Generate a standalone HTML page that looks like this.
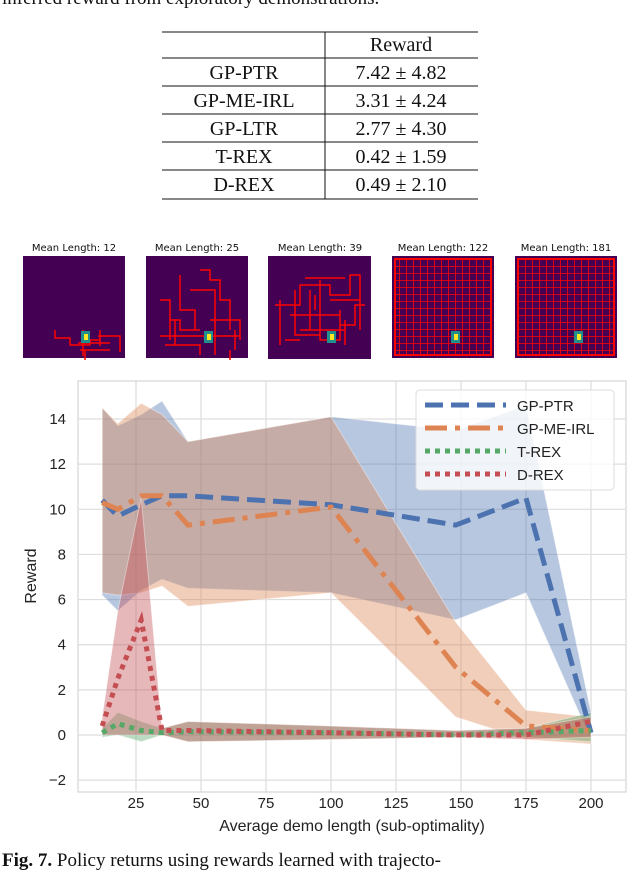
<!DOCTYPE html>
<html><head><meta charset="utf-8"><style>
body{margin:0;background:#fff;width:640px;height:867px;overflow:hidden;position:relative;font-family:"Liberation Serif",serif}
.abs{position:absolute}
</style></head><body>
<div class="abs" style="left:2px;top:-12px;font-size:19px;color:#111;white-space:nowrap">inferred reward from exploratory demonstrations.</div>
<svg class="abs" style="left:0;top:0" width="640" height="867">
<g font-family="Liberation Serif, serif" font-size="20" fill="#111" text-anchor="middle">
<line x1="162" x2="478" y1="32" y2="32" stroke="#111" stroke-width="1"/>
<line x1="162" x2="478" y1="58" y2="58" stroke="#111" stroke-width="1"/>
<line x1="162" x2="478" y1="86" y2="86" stroke="#111" stroke-width="1"/>
<line x1="162" x2="478" y1="114" y2="114" stroke="#111" stroke-width="1"/>
<line x1="162" x2="478" y1="142" y2="142" stroke="#111" stroke-width="1"/>
<line x1="162" x2="478" y1="170" y2="170" stroke="#111" stroke-width="1"/>
<line x1="162" x2="478" y1="199" y2="199" stroke="#111" stroke-width="1"/>
<line x1="325" x2="325" y1="32" y2="199" stroke="#111" stroke-width="1"/>
<text x="401" y="51">Reward</text>
<text x="244" y="79">GP-PTR</text><text x="401" y="79">7.42 ± 4.82</text>
<text x="244" y="107">GP-ME-IRL</text><text x="401" y="107">3.31 ± 4.24</text>
<text x="244" y="135">GP-LTR</text><text x="401" y="135">2.77 ± 4.30</text>
<text x="244" y="163">T-REX</text><text x="401" y="163">0.42 ± 1.59</text>
<text x="244" y="191">D-REX</text><text x="401" y="191">0.49 ± 2.10</text>
</g>
<defs>
<pattern id="dense" width="7" height="7" patternUnits="userSpaceOnUse"><rect width="7" height="7" fill="#440154"/><path d="M0 0H7M0 0V7" stroke="#f00" stroke-width="1.6"/></pattern>
</defs>
<g font-family="DejaVu Sans, sans-serif" font-size="10" fill="#111" text-anchor="middle">
<text x="74" y="251">Mean Length: 12</text>
<text x="197" y="251">Mean Length: 25</text>
<text x="320" y="251">Mean Length: 39</text>
<text x="443" y="251">Mean Length: 122</text>
<text x="566" y="251">Mean Length: 181</text>
<rect x="23" y="256" width="102" height="102" fill="#440154"/>
<path d="M55 330V338H70V345H90V340H100V346M100 330V340M80 350H110M83 330V356M98 336H120V352M78 343H110M85 360V350" stroke="#f00" stroke-width="1.5" fill="none"/>
<rect x="146" y="256" width="102" height="102" fill="#440154"/>
<path d="M160 300H170V320H180V330H200M170 315V340M165 345H200V355M180 275V310H195V330M200 270H210V280H220V300H230V330M190 290H215V340M210 320H240V340M215 300V355M230 300V330M160 336H240M175 320V345M235 330V350M230 350V360" stroke="#f00" stroke-width="1.5" fill="none"/>
<rect x="268" y="256" width="103" height="103" fill="#440154"/>
<path d="M275 305H300V285H330V295H350V275H360V330M280 300V345M290 315H340V325H355V305H365M295 290V335H320M310 290V330M320 280V340H340V310M330 300H360M300 330H345V345M345 320V345M285 340H300M305 278H345M315 295V310" stroke="#f00" stroke-width="1.5" fill="none"/>
<rect x="392" y="256" width="102" height="102" fill="#440154"/>
<rect x="395" y="259" width="96" height="96" fill="url(#dense)" stroke="#f00" stroke-width="2"/>
<rect x="515" y="256" width="102" height="102" fill="#440154"/>
<rect x="518" y="259" width="96" height="96" fill="url(#dense)" stroke="#f00" stroke-width="2"/>
<g>
<rect x="81" y="331" width="9" height="12" fill="#21908d"/><rect x="84" y="334" width="4" height="6" fill="#fde725"/>
<rect x="204" y="331" width="9" height="12" fill="#21908d"/><rect x="207" y="334" width="4" height="6" fill="#fde725"/>
<rect x="327" y="331" width="9" height="12" fill="#21908d"/><rect x="330" y="334" width="4" height="6" fill="#fde725"/>
<rect x="451" y="331" width="9" height="12" fill="#21908d"/><rect x="454" y="334" width="4" height="6" fill="#fde725"/>
<rect x="574" y="331" width="9" height="12" fill="#21908d"/><rect x="577" y="334" width="4" height="6" fill="#fde725"/>
</g>
</g>
<g id="chart"></g>
</svg>
<div class="abs" style="left:2px;top:850px;font-size:19px;color:#111;white-space:nowrap"><b>Fig. 7.</b> Policy returns using rewards learned with trajecto-</div>
<script>
const xs=[12,18,27,35,45,100,148,175,200];
const ptr=[10.4,9.7,10.2,10.6,10.6,10.2,9.3,10.5,0.1];
const ptrHi=[14.5,13.7,14.2,14.8,13.0,14.1,13.5,14.6,1.0];
const ptrLo=[6.2,5.5,6.4,6.9,6.5,6.3,5.1,6.3,-0.2];
const me=[10.3,10.0,10.6,10.6,9.3,10.1,3.0,0.4,0.2];
const meHi=[14.5,13.8,14.7,14.2,13.0,14.1,5.0,1.1,0.8];
const meLo=[6.3,6.2,6.3,6.6,5.7,6.3,0.8,-0.2,-0.4];
const trex=[0.1,0.5,0.2,0.1,0.15,0.1,0.0,0.1,0.2];
const trexHi=[0.3,1.0,0.6,0.3,0.6,0.4,0.2,0.3,1.0];
const trexLo=[-0.1,0.0,-0.3,0.0,-0.3,-0.2,-0.1,-0.1,-0.3];
const drex=[0.4,2.5,5.1,0.2,0.2,0.1,0.0,0.0,0.6];
const drexHi=[0.8,5.5,10.5,0.3,0.6,0.4,0.2,0.3,0.8];
const drexLo=[0.0,0.0,0.0,0.0,-0.3,-0.2,-0.1,-0.2,-0.1];
const xTicks=[25,50,75,100,125,150,175,200];
const yTicks=[-2,0,2,4,6,8,10,12,14];
const L=78,R=626,T=381,B=792;
const X=v=>136+(v-25)*2.6;
const Y=v=>735-v*22.57;
const g=document.getElementById('chart');
const NS='http://www.w3.org/2000/svg';
function mk(t,a){const e=document.createElementNS(NS,t);for(const k in a)e.setAttribute(k,a[k]);g.appendChild(e);return e;}
let e=mk('rect',{x:L,y:T,width:R-L,height:B-T,fill:'#fff',stroke:'#ddd','stroke-width':1.5});


xTicks.forEach(t=>{let l=mk('line',{x1:X(t),x2:X(t),y1:T,y2:B,stroke:'#ddd','stroke-width':1.2});


let tx=mk('text',{x:X(t),y:B+16,'font-size':15,'font-family':'Liberation Sans, sans-serif','text-anchor':'middle',fill:'#222'});tx.textContent=t;

});
yTicks.forEach(t=>{let l=mk('line',{x1:L,x2:R,y1:Y(t),y2:Y(t),stroke:'#ddd','stroke-width':1.2});


let tx=mk('text',{x:L-12,y:Y(t)+5,'font-size':15,'font-family':'Liberation Sans, sans-serif','text-anchor':'end',fill:'#222'});tx.textContent=t===-2?'\u22122':t;

});
function band(hi,lo,c,name){const p=xs.map((x,i)=>X(x)+','+Y(hi[i])).concat(xs.map((x,i)=>X(x)+','+Y(lo[i])).reverse());
const e=mk('polygon',{points:p.join(' '),fill:c,'fill-opacity':0.4,stroke:'#fff','stroke-opacity':0.4});

}
function line(v,c,dash,name){const e=mk('polyline',{points:xs.map((x,i)=>X(x)+','+Y(v[i])).join(' '),fill:'none',stroke:c,'stroke-width':5,'stroke-dasharray':dash});

}
band(ptrHi,ptrLo,'#4c72b0','gp-ptr-band');
band(meHi,meLo,'#dd8452','gp-me-irl-band');
band(trexHi,trexLo,'#55a868','t-rex-band');
band(drexHi,drexLo,'#c44e52','d-rex-band');
line(ptr,'#4c72b0','18 8','gp-ptr-line');
line(me,'#dd8452','22 8 5 8','gp-me-irl-line');
line(trex,'#55a868','5 5','t-rex-line');
line(drex,'#c44e52','5 5','d-rex-line');
e=mk('rect',{x:416,y:390,width:198,height:100,rx:4,fill:'#fff','fill-opacity':0.8,stroke:'#ddd'});


const leg=[['GP-PTR','#4c72b0','18 8'],['GP-ME-IRL','#dd8452','22 8 5 8'],['T-REX','#55a868','5 5'],['D-REX','#c44e52','5 5']];
leg.forEach((d,i)=>{const y=405+i*23;
let l=mk('line',{x1:425,x2:506,y1:y,y2:y,stroke:d[1],'stroke-width':5,'stroke-dasharray':d[2]});


let t=mk('text',{x:517,y:y+6,'font-size':15,'font-family':'Liberation Sans, sans-serif',fill:'#222'});t.textContent=d[0];

});
e=mk('text',{x:352,y:831,'font-size':16,'font-family':'Liberation Sans, sans-serif','text-anchor':'middle',fill:'#222'});e.textContent='Average demo length (sub-optimality)';


e=mk('text',{x:0,y:0,'font-size':16,'font-family':'Liberation Sans, sans-serif','text-anchor':'middle',fill:'#222',transform:'translate(36,576) rotate(-90)'});e.textContent='Reward';


</script>
</body></html>
